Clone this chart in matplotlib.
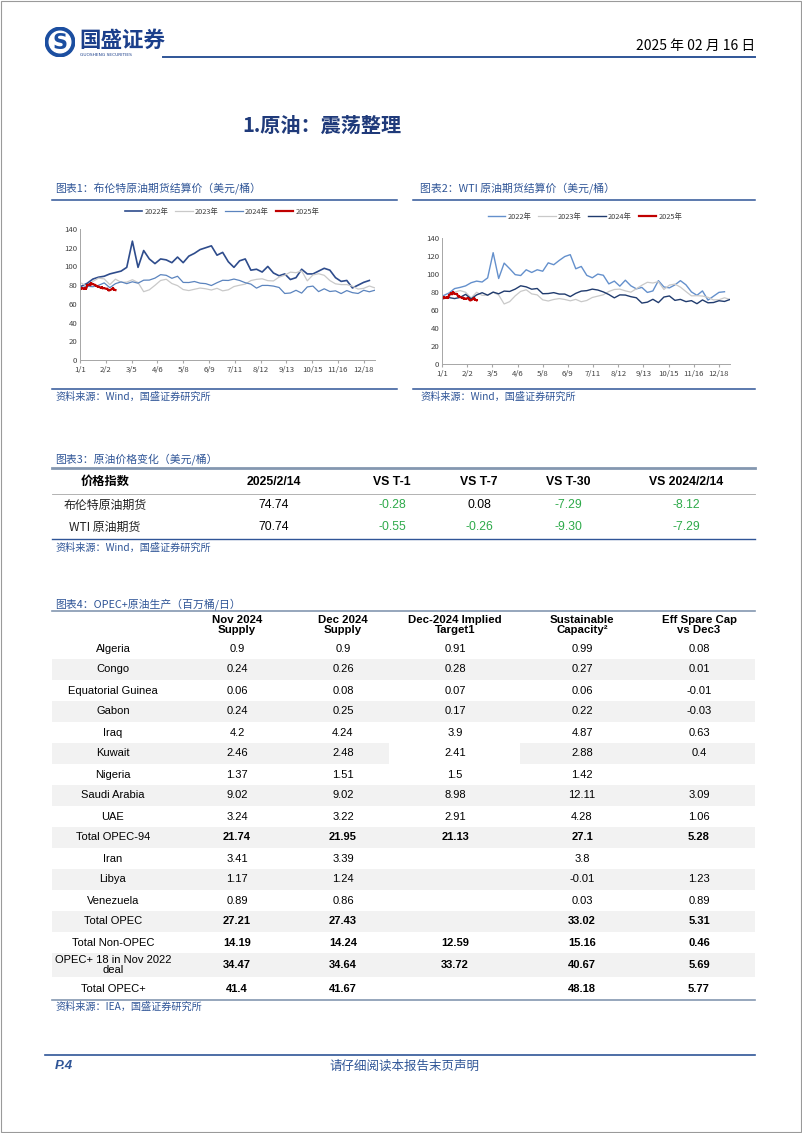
import numpy as np
import matplotlib
matplotlib.use("Agg")
import matplotlib.pyplot as plt
from matplotlib.lines import Line2D
from matplotlib.patches import Rectangle, Circle

W, H = 802, 1133
plt.rcParams['font.family'] = ['Noto Sans CJK SC', 'DejaVu Sans']
LAT = ['Liberation Sans', 'Noto Sans CJK SC']

# ---------------- data ----------------
# weekly settlement prices (USD/bbl), one value per week from early Jan
brent_2022 = [79.0, 82.0, 86.5, 88.5, 89.5, 92.0, 93.5, 95.0, 99.0, 127.0, 99.0, 117.0, 108.0,
              103.0, 108.0, 107.0, 104.0, 110.0, 104.0, 111.0, 114.0, 118.0, 120.0, 122.0, 112.0,
              115.0, 105.0, 99.0, 106.0, 108.0, 96.0, 97.0, 94.0, 100.0, 93.0, 90.0, 92.0, 86.0,
              88.0, 97.0, 92.0, 92.0, 95.0, 98.0, 96.0, 88.0, 84.0, 85.0, 77.0, 80.0, 83.0, 85.0]
brent_2023 = [82.0, 78.6, 84.0, 87.5, 86.7, 80.5, 86.4, 83.0, 83.2, 85.8, 82.8, 73.0, 75.0,
              79.8, 85.0, 86.3, 81.7, 79.5, 75.3, 74.2, 75.6, 76.9, 76.1, 74.8, 76.6, 73.9,
              75.0, 78.5, 79.9, 81.1, 84.9, 86.2, 86.8, 84.8, 84.5, 88.6, 90.6, 93.9, 93.3,
              95.3, 84.6, 90.9, 92.2, 90.5, 84.9, 81.4, 80.6, 80.6, 78.9, 75.8, 76.6, 79.1, 77.0]
brent_2024 = [77.0, 78.8, 78.3, 79.8, 82.4, 77.3, 81.6, 83.5, 81.6, 83.6, 82.1, 85.3, 85.4,
              87.5, 91.2, 90.5, 87.3, 89.5, 82.9, 82.8, 83.9, 82.1, 81.6, 79.6, 82.6, 85.2,
              85.0, 86.5, 85.0, 82.6, 81.1, 76.8, 79.7, 79.7, 79.0, 77.5, 71.1, 71.6, 74.5,
              71.5, 78.1, 79.0, 73.1, 76.1, 73.2, 73.9, 71.0, 74.2, 72.0, 71.1, 74.5, 72.9, 74.6]
wti_2022 = [76.1, 78.9, 83.8, 85.1, 86.8, 90.3, 92.1, 91.1, 95.7, 123.7, 95.0, 112.1, 105.9,
            99.3, 98.3, 104.7, 101.7, 104.7, 103.1, 112.4, 110.3, 115.1, 119.4, 121.5, 105.8,
            108.4, 98.5, 95.8, 99.9, 98.6, 89.0, 92.1, 86.5, 93.1, 86.9, 83.5, 85.1, 79.5,
            81.2, 92.6, 85.6, 84.6, 87.9, 92.6, 88.0, 80.1, 76.3, 81.2, 71.0, 75.3, 79.6, 80.3]
wti_2023 = [73.7, 74.6, 79.9, 81.6, 79.7, 73.4, 79.7, 76.3, 76.3, 79.7, 76.7, 66.7, 69.3,
            75.7, 80.7, 82.5, 77.9, 76.8, 71.3, 70.0, 71.7, 72.7, 71.7, 70.2, 71.8, 69.2,
            70.6, 73.9, 75.4, 76.9, 80.6, 82.8, 83.2, 81.3, 79.8, 83.6, 87.5, 90.8, 90.0,
            91.5, 82.8, 87.7, 88.8, 85.4, 80.5, 75.7, 75.9, 75.5, 74.1, 71.2, 71.4, 73.6, 71.7]
wti_2024 = [72.7, 73.8, 72.7, 74.0, 77.4, 72.3, 76.8, 79.2, 76.5, 79.9, 78.0, 81.0, 80.6,
            83.2, 86.9, 85.7, 83.1, 83.9, 78.1, 78.3, 79.3, 77.7, 77.7, 74.9, 78.5, 81.0,
            81.5, 83.2, 82.2, 80.1, 77.2, 73.5, 76.8, 76.6, 74.8, 73.6, 67.7, 68.7, 71.9,
            68.2, 74.4, 75.6, 70.7, 71.8, 69.3, 70.4, 67.0, 71.2, 68.0, 68.3, 70.3, 69.5, 71.7]
# 2025 daily settlements, day-of-year (0 = 1 Jan)
days_2025 = [1, 2, 5, 6, 7, 8, 9, 12, 13, 14, 15, 16, 19, 20, 21, 22, 23, 26, 27, 28, 29, 30,
             33, 34, 35, 36, 37, 40, 41, 42, 43, 44]
brent_2025 = [75.93, 76.51, 76.30, 77.05, 76.16, 76.92, 79.76, 81.01, 79.92, 82.03, 81.29, 81.00,
              80.15, 79.29, 79.00, 78.29, 78.50, 77.08, 77.49, 76.58, 76.87, 76.76,
              75.96, 76.20, 74.61, 74.29, 74.66, 75.87, 77.00, 75.18, 75.02, 74.74]
wti_2025 = [73.13, 73.96, 73.56, 74.25, 73.32, 73.92, 76.57, 78.82, 77.50, 80.04, 78.68, 77.88,
            77.88, 75.83, 75.44, 74.62, 74.66, 73.17, 73.77, 72.62, 72.73, 72.53,
            73.16, 72.70, 71.03, 70.61, 71.00, 72.32, 73.32, 71.37, 71.29, 70.74]
x_ticks = [0, 32, 64, 96, 128, 160, 192, 224, 256, 288, 320, 352]
x_labels = ['1/1', '2/2', '3/5', '4/6', '5/8', '6/9', '7/11', '8/12', '9/13', '10/15', '11/16', '12/18']

# table 3
t3_header = ['价格指数', '2025/2/14', 'VS T-1', 'VS T-7', 'VS T-30', 'VS 2024/2/14']
t3_names = ['布伦特原油期货', 'WTI 原油期货']
t3_price = ['74.74', '70.74']
t3_t1 = ['-0.28', '-0.55']
t3_t7 = ['0.08', '-0.26']
t3_t30 = ['-7.29', '-9.30']
t3_yoy = ['-8.12', '-7.29']

# table 4
t4_header = ['Nov 2024\nSupply', 'Dec 2024\nSupply', 'Dec-2024 Implied\nTarget1',
             'Sustainable\nCapacity²', 'Eff Spare Cap\nvs Dec3']
t4_names = ['Algeria', 'Congo', 'Equatorial Guinea', 'Gabon', 'Iraq', 'Kuwait', 'Nigeria',
            'Saudi Arabia', 'UAE', 'Total OPEC-94', 'Iran', 'Libya', 'Venezuela', 'Total OPEC',
            'Total Non-OPEC', 'OPEC+ 18 in Nov 2022\ndeal', 'Total OPEC+']
t4_nov = [0.9, 0.24, 0.06, 0.24, 4.2, 2.46, 1.37, 9.02, 3.24, 21.74, 3.41, 1.17, 0.89, 27.21,
          14.19, 34.47, 41.4]
t4_dec = [0.9, 0.26, 0.08, 0.25, 4.24, 2.48, 1.51, 9.02, 3.22, 21.95, 3.39, 1.24, 0.86, 27.43,
          14.24, 34.64, 41.67]
t4_target = [0.91, 0.28, 0.07, 0.17, 3.9, 2.41, 1.5, 8.98, 2.91, 21.13, None, None, None, None,
             12.59, 33.72, None]
t4_capacity = [0.99, 0.27, 0.06, 0.22, 4.87, 2.88, 1.42, 12.11, 4.28, 27.1, 3.8, -0.01, 0.03,
               33.02, 15.16, 40.67, 48.18]
t4_spare = [0.08, 0.01, -0.01, -0.03, 0.63, 0.4, None, 3.09, 1.06, 5.28, None, 1.23, 0.89, 5.31,
            0.46, 5.69, 5.77]
t4_bold = ['Total OPEC-94', 'Total OPEC', 'Total Non-OPEC', 'OPEC+ 18 in Nov 2022\ndeal', 'Total OPEC+']

# ---------------- page ----------------
fig = plt.figure(figsize=(W / 100, H / 100), dpi=100)
BLUE = '#2F5597'
NAVY = '#1F3A7A'
GREEN = '#2EAA4A'


def fx(x):
    return x / W


def fy(y):
    return 1 - y / H


def text(x, y, s, **kw):
    kw.setdefault('va', 'center')
    fig.text(fx(x), fy(y), s, **kw)


def hline(x0, x1, y, color, lw):
    fig.add_artist(Line2D([fx(x0), fx(x1)], [fy(y), fy(y)], color=color, lw=lw,
                          transform=fig.transFigure))


def box(x0, y0, x1, y1, color):
    fig.add_artist(Rectangle((fx(x0), fy(y1)), fx(x1) - fx(x0), fy(y0) - fy(y1),
                             transform=fig.transFigure, color=color, lw=0, zorder=0))


# page border
fig.add_artist(Rectangle((0.0008, 0.0005), 0.998, 0.999, transform=fig.transFigure,
                         fill=False, ec='#9A9A9A', lw=0.8))

# header logo
axl = fig.add_axes([fx(45), fy(57), 30 / W, 30 / H])
axl.set_xlim(-1, 1)
axl.set_ylim(-1, 1)
axl.axis('off')
axl.add_patch(Circle((0, 0), 0.98, color='#1B4EA0'))
axl.add_patch(Circle((0, 0), 0.72, color='white'))
axl.text(0, -0.05, 'S', ha='center', va='center', fontsize=15, fontweight='bold',
         color='#1B4EA0', family='DejaVu Sans')
text(79, 40, '国盛证券', fontsize=15.5, fontweight='bold', color='#1B3F8B')
text(80, 55, 'GUOSHENG SECURITIES', fontsize=3.2, color='#1B3F8B', family='DejaVu Sans')
hline(163, 755, 57, '#2F5597', 1.4)
text(755, 46, '2025 年 02 月 16 日', fontsize=10, ha='right', color='black')

# title
text(322, 125, '1.原油：震荡整理', fontsize=14.5, fontweight='bold', ha='center', color=NAVY)


# ---------------- line charts ----------------
def draw_chart(box_px, caption, cap_x, line_x, series, legend_xy):
    x0, y_top, x1, y_bot = box_px
    ax = fig.add_axes([fx(x0), fy(y_bot), (x1 - x0) / W, (y_bot - y_top) / H])
    for xs, ys, label, color, lw, mk in series:
        ax.plot(xs, ys, color=color, lw=lw, label=label, marker=mk, ms=1.8, mew=0)
    ax.set_xlim(0, 366)
    ax.set_ylim(0, 140)
    ax.set_yticks(range(0, 141, 20))
    ax.set_xticks(x_ticks)
    ax.set_xticklabels(x_labels)
    ax.tick_params(axis='both', labelsize=5.6, colors='#404040', pad=2)
    ax.tick_params(axis='y', length=0)
    ax.tick_params(axis='x', length=2.5, color='#A6A6A6')
    for s in ['top', 'right']:
        ax.spines[s].set_visible(False)
    for s in ['left', 'bottom']:
        ax.spines[s].set_color('#A6A6A6')
        ax.spines[s].set_linewidth(0.7)
    fig.legend(*ax.get_legend_handles_labels(), loc='center',
               bbox_to_anchor=(fx(legend_xy[0]), fy(legend_xy[1])), ncol=4, fontsize=5.3,
               frameon=False, handlelength=2.4, columnspacing=0.9, handletextpad=0.3,
               labelcolor='#404040')
    text(cap_x, 188, caption, fontsize=7.8, color=BLUE, style='italic')
    hline(line_x[0], line_x[1], 200, BLUE, 1.1)
    hline(line_x[0], line_x[1], 389, BLUE, 1.1)
    text(cap_x, 397, '资料来源：Wind，国盛证券研究所', fontsize=7.3, color=BLUE, style='italic')


wk = lambda v: np.arange(len(v)) * 7 + 2

draw_chart((80, 229, 375, 360), '图表1：布伦特原油期货结算价（美元/桶）', 55, (52, 397), [
    (wk(brent_2022), brent_2022, '2022年', '#2E4C8C', 1.2, None),
    (wk(brent_2023), brent_2023, '2023年', '#C9C9C9', 0.9, None),
    (wk(brent_2024), brent_2024, '2024年', '#5B84BE', 0.9, None),
    (days_2025, brent_2025, '2025年', '#C00000', 1.6, 's'),
], (222, 212))

draw_chart((442, 238, 730, 364), '图表2：WTI 原油期货结算价（美元/桶）', 420, (413, 755), [
    (wk(wti_2022), wti_2022, '2022年', '#6490CC', 1.0, None),
    (wk(wti_2023), wti_2023, '2023年', '#C9C9C9', 0.9, None),
    (wk(wti_2024), wti_2024, '2024年', '#203B6E', 1.0, None),
    (days_2025, wti_2025, '2025年', '#C00000', 1.6, 's'),
], (585, 217))

# ---------------- table 3 ----------------
t3_cols = [105, 274, 392, 479, 568, 686]
text(55, 459, '图表3：原油价格变化（美元/桶）', fontsize=7.8, color=BLUE, style='italic')
hline(52, 755, 468, '#8497B0', 2.0)
hline(52, 755, 494, '#A6A6A6', 0.6)
hline(52, 755, 539, BLUE, 1.0)
for cx, h in zip(t3_cols, t3_header):
    text(cx, 482, h, fontsize=8.8, fontweight='bold', ha='center', family=LAT)
for i, y in enumerate([505, 527]):
    text(t3_cols[0], y, t3_names[i], fontsize=8.6, ha='center', color='#222222')
    text(t3_cols[1], y, t3_price[i], fontsize=8.8, ha='center', family=LAT)
    for cx, col in zip(t3_cols[2:], [t3_t1, t3_t7, t3_t30, t3_yoy]):
        v = col[i]
        text(cx, y, v, fontsize=8.8, ha='center', family=LAT,
             color=GREEN if v.startswith('-') else 'black')
text(55, 548, '资料来源：Wind，国盛证券研究所', fontsize=7.3, color=BLUE, style='italic')

# ---------------- table 4 ----------------
t4_cols = [113, 237, 343, 455, 582, 699]
text(55, 604, '图表4：OPEC+原油生产（百万桶/日）', fontsize=7.8, color=BLUE, style='italic')
row_h = [21] * 15 + [24, 23]
tops = 638 + np.concatenate([[0], np.cumsum(row_h)[:-1]])
for i, (top, h) in enumerate(zip(tops, row_h)):
    if i % 2 == 1:
        box(52, top, 755, top + h, '#F2F2F2')
        if t4_names[i] == 'Kuwait':
            box(389, top, 520, top + h, 'white')
hline(52, 755, 611, '#8497B0', 1.2)
hline(52, 755, 1000, '#8497B0', 1.2)
for cx, h in zip(t4_cols[1:], t4_header):
    text(cx, 625, h, fontsize=8.2, fontweight='bold', ha='center', family=LAT, linespacing=1.0)
for i, (top, h) in enumerate(zip(tops, row_h)):
    cy = top + h / 2
    name = t4_names[i]
    text(t4_cols[0], cy, name, fontsize=8.0, ha='center', family=LAT, linespacing=0.95)
    w = 'bold' if name in t4_bold else 'normal'
    for cx, col in zip(t4_cols[1:], [t4_nov, t4_dec, t4_target, t4_capacity, t4_spare]):
        if col[i] is not None:
            text(cx, cy, f'{col[i]:g}', fontsize=8.0, ha='center', family=LAT, fontweight=w)
text(55, 1007, '资料来源：IEA，国盛证券研究所', fontsize=7.3, color=BLUE, style='italic')

# ---------------- footer ----------------
hline(45, 755, 1055, BLUE, 1.2)
text(55, 1066, 'P.4', fontsize=9.5, fontweight='bold', style='italic', color=BLUE, family=LAT)
text(405, 1066, '请仔细阅读本报告末页声明', fontsize=9, ha='center', color=BLUE, style='italic')

fig.savefig('out.png', dpi=100)
